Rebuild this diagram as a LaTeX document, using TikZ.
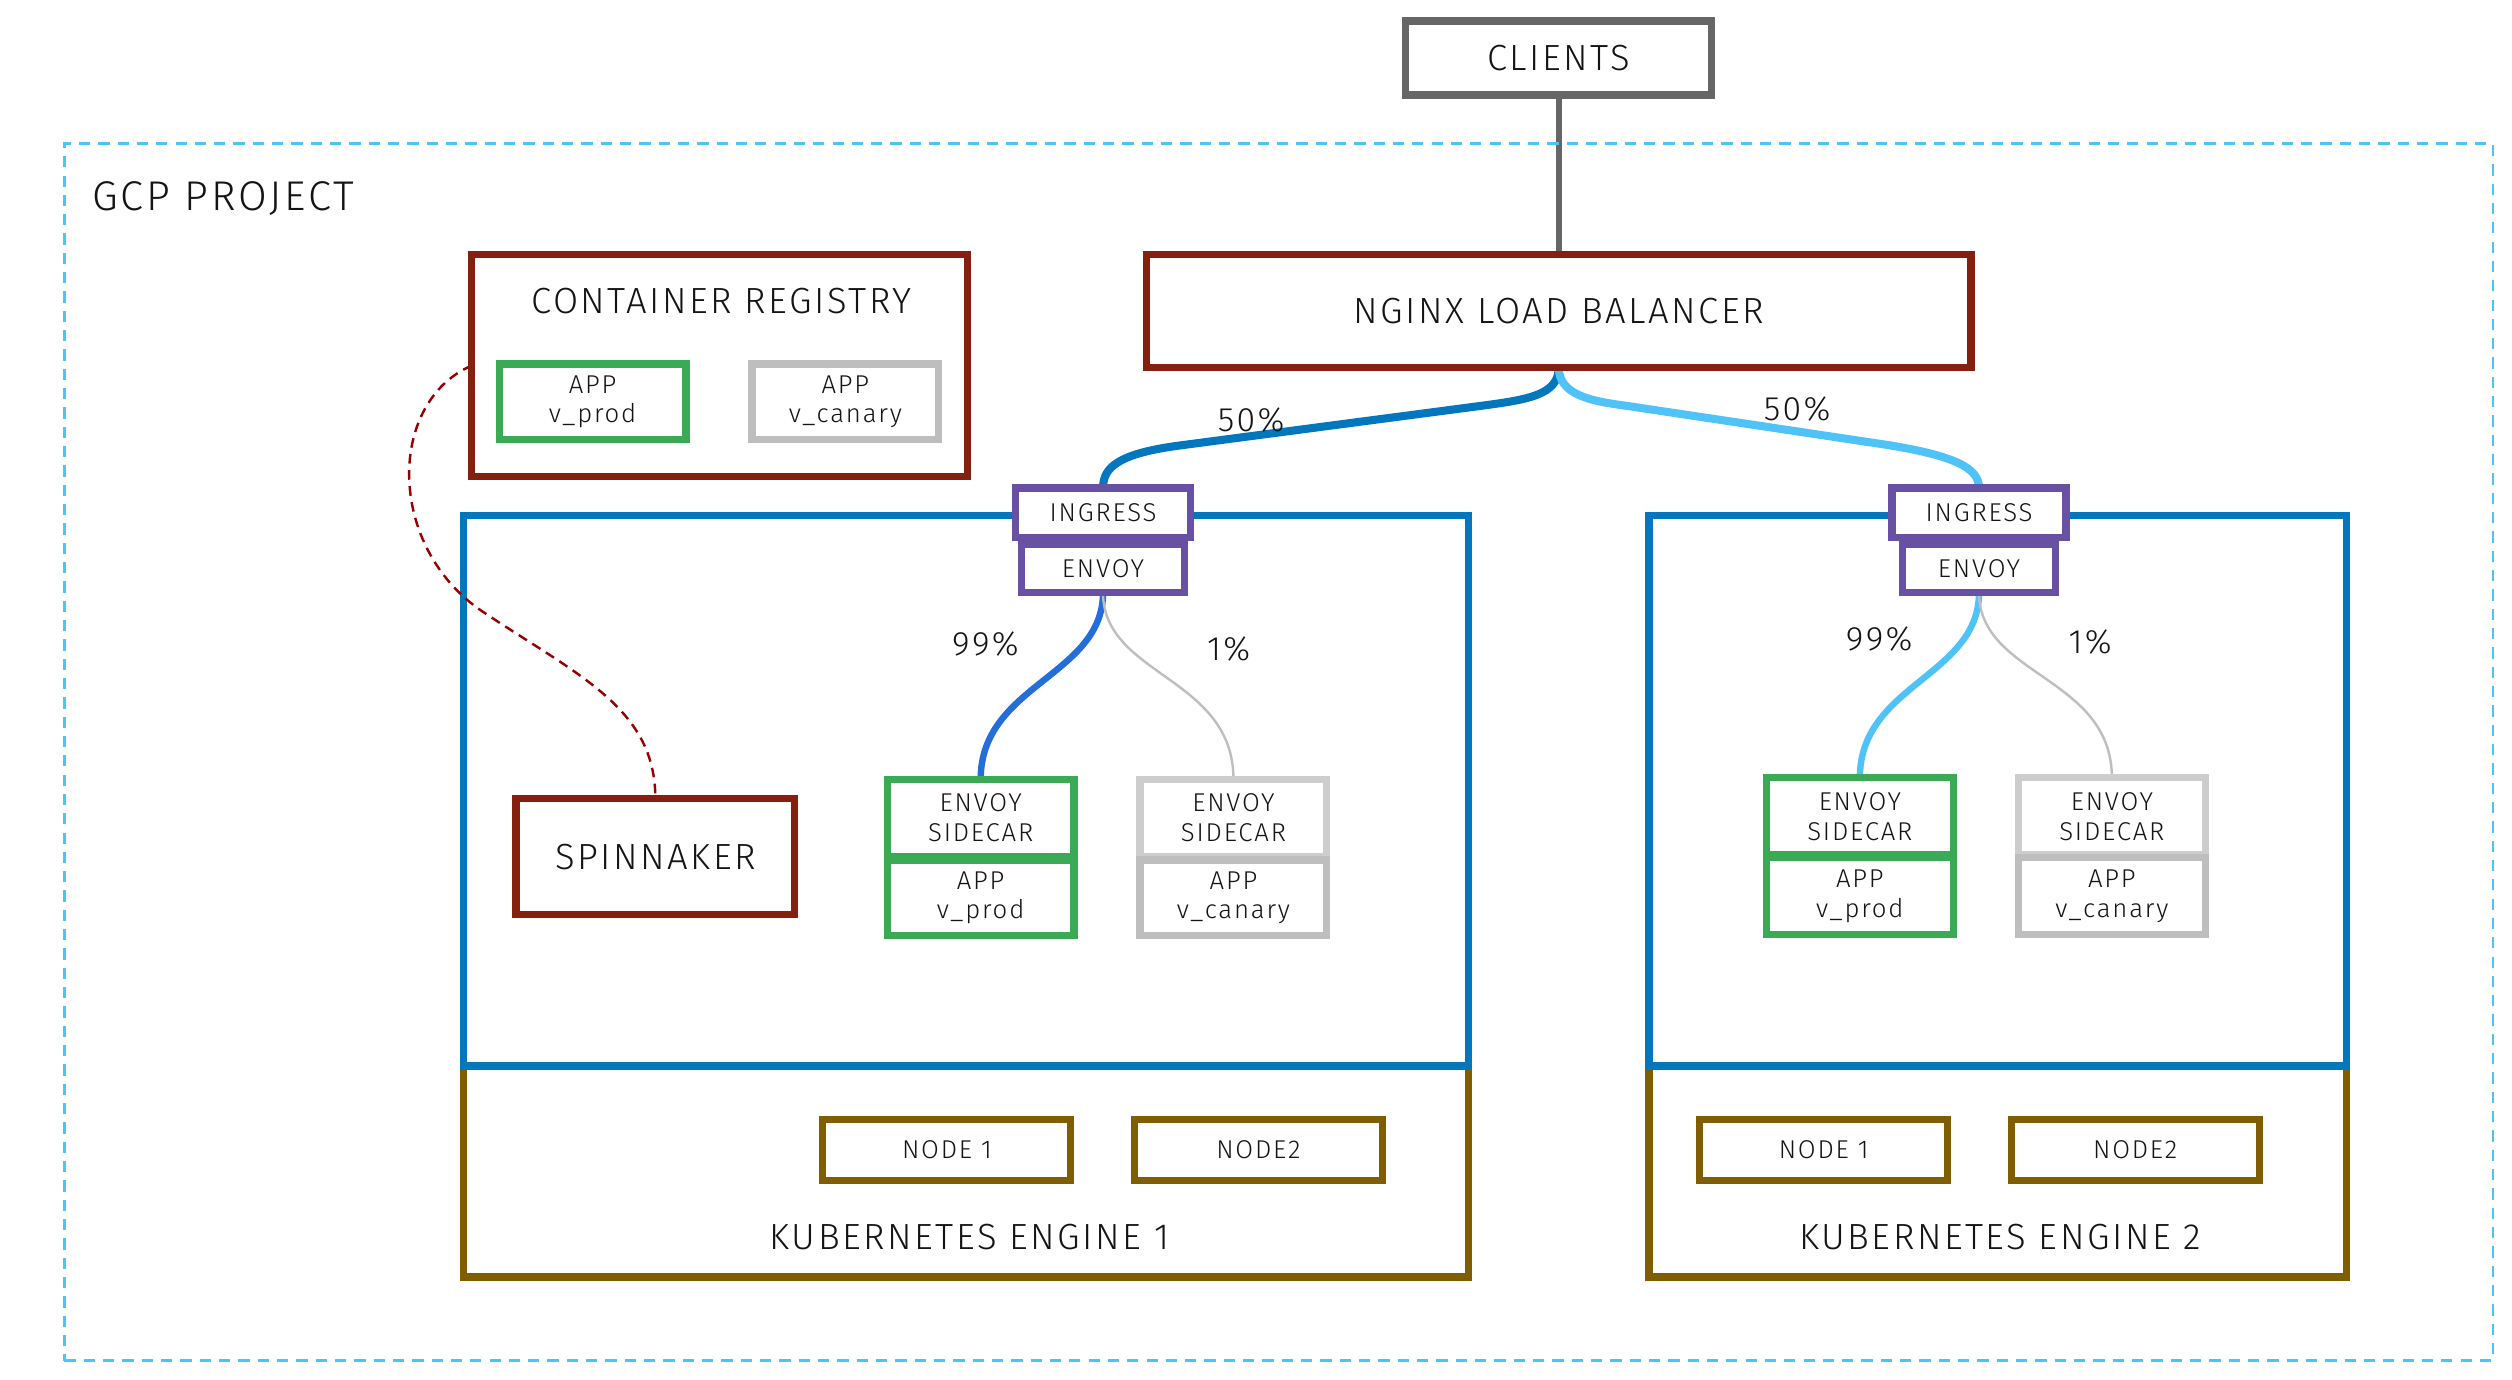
\documentclass[tikz,border=0pt]{standalone}
\usepackage{fontspec}
\setmainfont{Fira Sans Light}[LetterSpace=7]
\usetikzlibrary{calc}
\pgfdeclarelayer{back}
\pgfdeclarelayer{mid}
\pgfsetlayers{back,mid,main}
\definecolor{cRed}{RGB}{134,32,14}
\definecolor{cGreen}{RGB}{58,170,85}
\definecolor{cGrayA}{RGB}{205,205,205}
\definecolor{cGrayB}{RGB}{190,190,190}
\definecolor{cBlue}{RGB}{2,119,189}
\definecolor{cPurple}{RGB}{104,80,165}
\definecolor{cOlive}{RGB}{128,94,0}
\definecolor{cSky}{RGB}{79,195,247}
\definecolor{cRoyal}{RGB}{36,110,217}
\definecolor{cDark}{RGB}{102,102,102}
\definecolor{cDash}{RGB}{150,0,0}
\definecolor{cText}{RGB}{20,20,20}
\newcommand{\fbig}{\fontsize{22.6}{27}\selectfont}
\newcommand{\fgcp}{\fontsize{25.8}{31}\selectfont}
\newcommand{\fsmall}{\fontsize{16}{18.5}\selectfont}
\newcommand{\fpct}{\fontsize{21}{25}\selectfont}
\tikzset{
  box/.style={draw, line width=4.5pt, fill=white, inner sep=0pt, outer sep=0pt, text=cText, align=center},
  bigbox/.style={box, draw=cRed, font=\fbig},
  smallbox/.style={box, font=\fsmall},
  purplebox/.style={smallbox, draw=cPurple, minimum height=31pt},
  greenbox/.style={smallbox, draw=cGreen, minimum width=116pt},
  graytop/.style={smallbox, draw=cGrayA, minimum width=116pt},
  graybot/.style={smallbox, draw=cGrayB, minimum width=116pt},
  nodebox/.style={smallbox, draw=cOlive, minimum width=154pt, minimum height=38pt},
  cluster/.style={draw=cBlue, line width=4.5pt, inner sep=0pt, outer sep=0pt, minimum height=342pt},
  hostbox/.style={draw=cOlive, line width=4.5pt, inner sep=0pt, outer sep=0pt, minimum height=131pt},
  lbl/.style={inner sep=0pt, text=cText},
  thickflow/.style={line width=5pt},
  innerflow/.style={line width=4pt},
  thinflow/.style={line width=1.5pt, cGrayB},
}
\begin{document}
\begin{tikzpicture}[x=1pt,y=-1pt]
\useasboundingbox (0,0) rectangle (1560,857);

% GCP project frame
\node[draw=cSky, line width=1.5pt, dash pattern=on 7pt off 5pt, inner sep=0pt, minimum width=1508pt, minimum height=756pt] (gcp) at (794,467) {};
\node[lbl, font=\fgcp, anchor=west] (gcplab) at (57,123) {GCP PROJECT};

% clusters
\begin{pgfonlayer}{back}
\node[hostbox, minimum width=624pt] (host1) at (600,727.5) {};
\node[cluster, minimum width=624pt] (k1) at (600,491) {};
\node[hostbox, minimum width=433pt] (host2) at (1240.5,727.5) {};
\node[cluster, minimum width=433pt] (k2) at (1240.5,491) {};
\end{pgfonlayer}

% top nodes
\node[box, draw=cDark, font=\fbig, minimum width=190pt, minimum height=46pt] (clients) at (968,36) {CLIENTS};
\node[bigbox, minimum width=512pt, minimum height=70pt] (nginx) at (968,193) {NGINX LOAD BALANCER};

% container registry
\node[bigbox, minimum width=308pt, minimum height=138pt] (reg) at (447,227) {};
\node[lbl, font=\fbig] (reglab) at (448,187) {CONTAINER REGISTRY};
\node[greenbox, minimum height=47pt] (regprod) at (368,249.5) {APP\\v\_prod};
\node[graybot, minimum height=47pt] (regcan) at (525,249.5) {APP\\v\_canary};

% cluster 1
\node[purplebox, minimum width=109pt] (ingL) at (685,318.5) {INGRESS};
\node[purplebox, minimum width=101pt, minimum height=30pt] (envL) at (685,353) {ENVOY};
\node[bigbox, minimum width=173pt, minimum height=72pt] (spin) at (407,532) {SPINNAKER};
\node[greenbox, minimum height=48pt] (scLt) at (609,508) {ENVOY\\SIDECAR};
\node[greenbox, minimum height=47pt] (scLb) at (609,557.5) {APP\\v\_prod};
\node[graytop, minimum height=48pt] (gLt) at (766,508) {ENVOY\\SIDECAR};
\node[graybot, minimum height=47pt] (gLb) at (766,557.5) {APP\\v\_canary};
\node[nodebox] (n1L) at (588,714) {NODE 1};
\node[nodebox] (n2L) at (781.5,714) {NODE2};
\node[lbl, font=\fbig] (k1lab) at (602,768) {KUBERNETES ENGINE 1};

% cluster 2
\node[purplebox, minimum width=108pt] (ingR) at (1229,318.5) {INGRESS};
\node[purplebox, minimum width=95pt, minimum height=30pt] (envR) at (1229,353) {ENVOY};
\node[greenbox, minimum height=48pt] (scRt) at (1155,507) {ENVOY\\SIDECAR};
\node[greenbox, minimum height=48pt] (scRb) at (1155,556.5) {APP\\v\_prod};
\node[graytop, minimum height=48pt] (gRt) at (1311.5,507) {ENVOY\\SIDECAR};
\node[graybot, minimum height=48pt] (gRb) at (1311.5,556.5) {APP\\v\_canary};
\node[nodebox] (n1R) at (1132.5,714) {NODE 1};
\node[nodebox] (n2R) at (1326,714) {NODE2};
\node[lbl, font=\fbig] (k2lab) at (1242,768) {KUBERNETES ENGINE 2};

% percentages
\node[lbl, font=\fpct] (p50L) at (777,261) {50\%};
\node[lbl, font=\fpct] (p50R) at (1116,254) {50\%};
\node[lbl, font=\fpct] (p99L) at (612,400) {99\%};
\node[lbl, font=\fpct] (p1L) at (763,403) {1\%};
\node[lbl, font=\fpct] (p99R) at (1167,397) {99\%};
\node[lbl, font=\fpct] (p1R) at (1298,399) {1\%};

% connectors
\begin{pgfonlayer}{mid}
\draw[cDark, line width=4pt] (clients.south) -- (nginx.north);
\draw[thickflow, cBlue] (nginx.south) .. controls (968,245) and (950,248) .. (920,252) -- (730,277) .. controls (695,282) and (685,290) .. (ingL.north);
\draw[thickflow, cSky] (nginx.south) .. controls (968,245) and (987,249) .. (1010,252) -- (1170,276) .. controls (1215,283) and (1229,291) .. (ingR.north);
\draw[innerflow, cRoyal] (envL.south) .. controls (685,420) and (609,425) .. (scLt.north);
\draw[thinflow] (envL.south) .. controls (685,420) and (766,420) .. (gLt.north);
\draw[innerflow, cSky] (envR.south) .. controls (1229,420) and (1155,425) .. (scRt.north);
\draw[thinflow] (envR.south) .. controls (1229,420) and (1311.5,420) .. (gRt.north);
\draw[cDash, line width=1.5pt, dash pattern=on 6pt off 4pt] (reg.west) .. controls (240,250) and (240,340) .. (300,380) .. controls (360,420) and (407,440) .. (spin.north);
\end{pgfonlayer}
\end{tikzpicture}
\end{document}
